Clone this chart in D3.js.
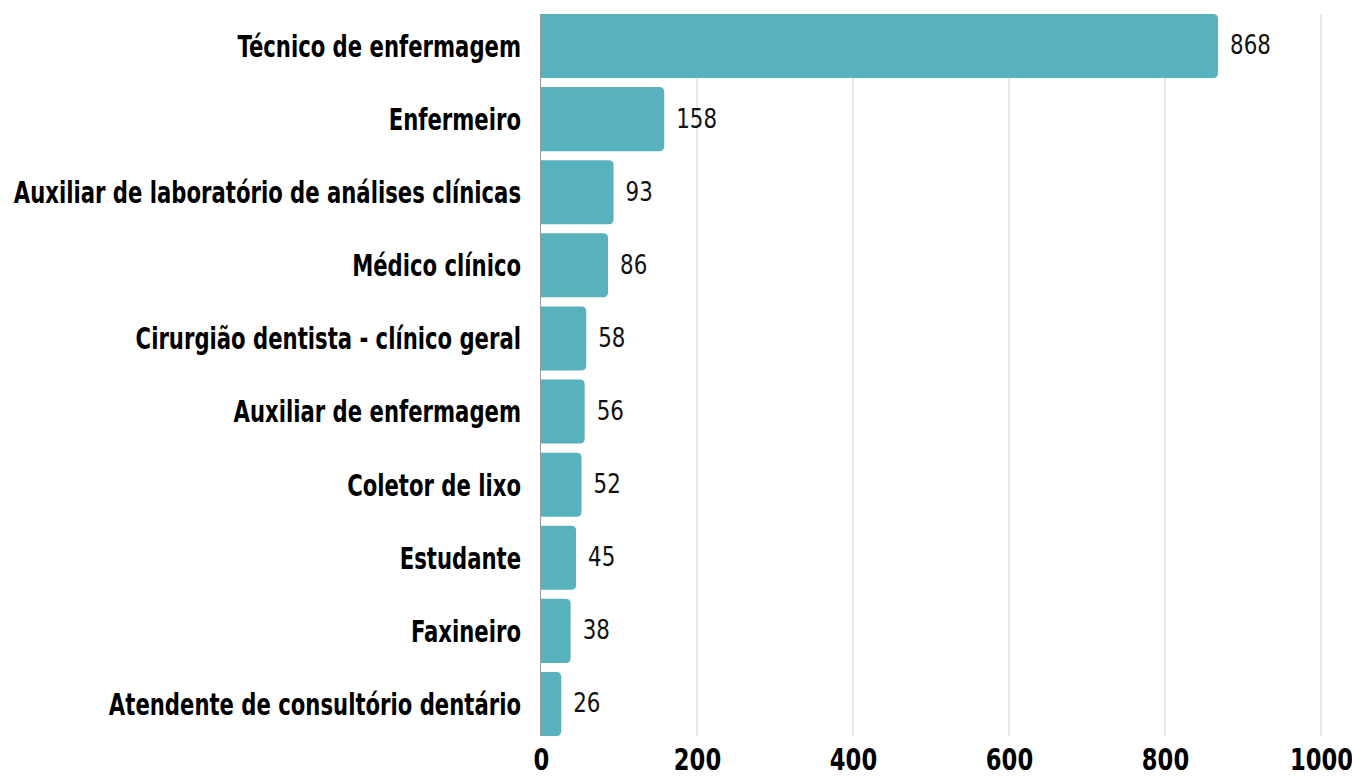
<!DOCTYPE html>
<meta charset="utf-8">
<script src="https://d3js.org/d3.v7.min.js"></script>
<style>
  body { margin: 0; background: #fff; }
  text { font-family: "DejaVu Sans Condensed", "DejaVu Sans", sans-serif; }
</style>
<body>
<div id="chart"></div>
<script>
// data
var categories = [
  "Técnico de enfermagem",
  "Enfermeiro",
  "Auxiliar de laboratório de análises clínicas",
  "Médico clínico",
  "Cirurgião dentista - clínico geral",
  "Auxiliar de enfermagem",
  "Coletor de lixo",
  "Estudante",
  "Faxineiro",
  "Atendente de consultório dentário"
]
var values = [868, 158, 93, 86, 58, 56, 52, 45, 38, 26]
var tickValues = [0, 200, 400, 600, 800, 1000]

var w = 1352, h = 778
var margin = { top: 14, right: 31, bottom: 42, left: 541 }

var svg = d3.select("#chart").append("svg")
  .attr("width", w).attr("height", h)

var x = d3.scaleLinear().domain([0, 1000]).range([margin.left, w - margin.right])
var y = d3.scaleBand().domain(categories).range([margin.top, h - margin.bottom]).paddingInner(0.124).paddingOuter(0)

// gridlines
svg.append("g").selectAll("line")
  .data(tickValues.filter(function (d) { return d > 0 }))
  .enter().append("line")
    .attr("x1", function (d) { return x(d) }).attr("x2", function (d) { return x(d) })
    .attr("y1", margin.top).attr("y2", h - margin.bottom)
    .attr("stroke", "#d0d0d0").attr("stroke-width", 1)

// baseline
svg.append("line")
  .attr("x1", x(0) - 0.5).attr("x2", x(0) - 0.5)
  .attr("y1", margin.top).attr("y2", h - margin.bottom)
  .attr("stroke", "#999").attr("stroke-width", 1)

var data = categories.map(function (c, i) { return { label: c, value: values[i] } })

function barPath(d) {
  var x0 = x(0), x1 = x(d.value), y0 = y(d.label), bh = y.bandwidth(), r = 5
  return "M" + x0 + "," + y0 +
    "H" + (x1 - r) + "Q" + x1 + "," + y0 + " " + x1 + "," + (y0 + r) +
    "V" + (y0 + bh - r) + "Q" + x1 + "," + (y0 + bh) + " " + (x1 - r) + "," + (y0 + bh) +
    "H" + x0 + "Z"
}

svg.append("g").selectAll("path")
  .data(data).enter().append("path")
    .attr("d", barPath)
    .attr("fill", "#58b2bd")

// value labels (squeezed horizontally to mimic a condensed face)
svg.append("g").selectAll("text")
  .data(data).enter().append("text")
    .attr("transform", function (d) {
      return "translate(" + (x(d.value) + 12) + "," + (y(d.label) + y.bandwidth() / 2 - 1) + ") scale(0.88,1)"
    })
    .attr("dy", "0.35em")
    .attr("font-size", 27)
    .attr("fill", "#111")
    .text(function (d) { return d.value })

// category labels
svg.append("g").selectAll("text")
  .data(data).enter().append("text")
    .attr("transform", function (d) {
      return "translate(" + (x(0) - 20) + "," + (y(d.label) + y.bandwidth() / 2) + ") scale(0.76,1)"
    })
    .attr("dy", "0.35em")
    .attr("text-anchor", "end")
    .attr("font-size", 31)
    .attr("font-weight", "bold")
    .attr("fill", "#000")
    .text(function (d) { return d.label })

// x axis tick labels
var xAxis = d3.axisBottom(x).tickValues(tickValues).tickSize(0).tickPadding(0).tickFormat(d3.format("d"))
var gx = svg.append("g")
  .attr("transform", "translate(0," + (h - 19) + ")")
  .call(xAxis)
gx.select(".domain").remove()
gx.selectAll("text")
  .attr("dy", "0.35em")
  .attr("y", 0)
  .attr("transform", "scale(0.84,1)")
  .attr("font-size", 30)
  .attr("font-weight", "bold")
  .attr("fill", "#000")
  .style("font-family", "'DejaVu Sans Condensed', 'DejaVu Sans', sans-serif")
</script>
</body>
